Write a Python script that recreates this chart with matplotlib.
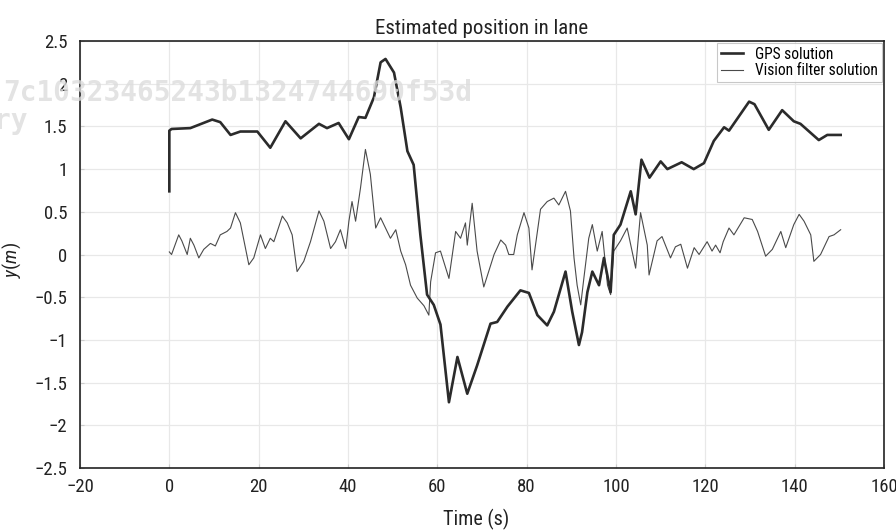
import matplotlib
matplotlib.use("Agg")
import matplotlib.pyplot as plt
from matplotlib import font_manager

# GPS solution track (time in s, lateral offset in m)
gps_t = [0.0, 0.0, 0.5, 4.7, 9.6, 11.4, 13.7, 15.9, 19.7, 22.6, 26.0, 29.4, 33.5, 35.3,
         37.9, 40.2, 42.4, 43.9, 45.8, 47.3, 48.4, 50.3, 51.8, 53.3, 54.7, 56.2, 57.7,
         59.2, 60.7, 62.6, 64.5, 66.7, 68.9, 71.9, 73.4, 75.7, 78.6, 80.5, 82.4, 84.6,
         86.1, 88.7, 90.2, 91.7, 92.4, 93.6, 94.7, 96.2, 97.3, 98.8, 99.5, 101.0, 103.3,
         104.4, 105.7, 107.5, 110.0, 111.5, 114.7, 117.4, 119.7, 121.9, 124.2, 125.3,
         129.8, 131.0, 134.2, 137.2, 139.8, 141.3, 145.4, 147.3, 150.3]
gps_y = [0.74, 1.45, 1.47, 1.48, 1.58, 1.55, 1.40, 1.44, 1.44, 1.25, 1.56, 1.36, 1.53, 1.48,
         1.54, 1.35, 1.61, 1.60, 1.84, 2.25, 2.29, 2.13, 1.72, 1.21, 1.05, 0.23, -0.47,
         -0.59, -0.82, -1.73, -1.20, -1.63, -1.30, -0.81, -0.79, -0.61, -0.42, -0.45, -0.71,
         -0.83, -0.67, -0.20, -0.67, -1.06, -0.91, -0.44, -0.20, -0.36, -0.04, -0.44, 0.23,
         0.35, 0.74, 0.47, 1.11, 0.90, 1.09, 1.00, 1.08, 1.00, 1.07, 1.33, 1.49, 1.45,
         1.79, 1.76, 1.46, 1.69, 1.56, 1.53, 1.34, 1.40, 1.40]

# Vision filter solution track
vis_t = [0.0, 0.5, 2.1, 2.8, 4.0, 4.7, 5.5, 6.6, 7.7, 9.2, 10.3, 11.4, 12.9, 13.7, 14.8,
         15.9, 17.8, 18.9, 20.4, 21.5, 22.6, 23.4, 25.3, 26.4, 27.5, 28.6, 30.1, 31.6,
         33.5, 34.6, 36.1, 37.2, 38.3, 39.5, 40.2, 40.9, 41.7, 42.8, 43.9, 45.0, 46.2,
         47.3, 49.5, 50.7, 51.8, 52.9, 54.0, 55.5, 57.0, 58.1, 58.5, 59.6, 60.7, 62.6,
         64.1, 65.2, 66.3, 66.7, 67.8, 68.9, 70.4, 72.7, 74.2, 75.3, 76.0, 77.1, 77.9,
         79.4, 80.5, 81.2, 83.1, 84.6, 86.1, 87.2, 88.7, 89.8, 90.6, 91.3, 92.1, 92.8,
         93.9, 94.7, 95.8, 96.9, 98.1, 98.8, 99.5, 101.0, 102.5, 104.4, 105.5, 107.0,
         107.4, 109.2, 110.3, 112.2, 113.3, 114.5, 116.0, 117.5, 118.6, 120.4, 121.5,
         122.3, 123.3, 124.0, 125.3, 126.4, 128.7, 130.5, 131.7, 133.5, 135.0, 136.9,
         138.0, 139.8, 141.0, 142.1, 143.6, 144.3, 145.8, 147.7, 148.8, 150.3]
vis_y = [0.03, 0.00, 0.23, 0.16, 0.00, 0.19, 0.11, -0.04, 0.06, 0.13, 0.10, 0.23, 0.27,
         0.31, 0.49, 0.37, -0.12, -0.04, 0.23, 0.07, 0.19, 0.15, 0.45, 0.37, 0.23, -0.20,
         -0.08, 0.15, 0.51, 0.39, 0.07, 0.15, 0.29, 0.07, 0.39, 0.62, 0.39, 0.78, 1.23,
         0.94, 0.31, 0.43, 0.19, 0.29, 0.04, -0.12, -0.36, -0.51, -0.60, -0.71, -0.32,
         0.02, 0.04, -0.28, 0.27, 0.19, 0.37, 0.11, 0.60, 0.04, -0.38, 0.00, 0.17, 0.11,
         0.00, 0.00, 0.23, 0.49, 0.31, -0.18, 0.53, 0.62, 0.66, 0.58, 0.74, 0.51, -0.04,
         -0.36, -0.59, -0.28, 0.19, 0.35, 0.04, 0.27, -0.36, -0.47, 0.04, 0.16, 0.31,
         -0.16, 0.49, 0.11, -0.24, 0.16, 0.21, -0.04, 0.09, 0.12, -0.16, 0.08, 0.00, 0.15,
         0.04, 0.11, 0.02, 0.15, 0.31, 0.23, 0.43, 0.41, 0.27, -0.02, 0.06, 0.27, 0.08,
         0.35, 0.47, 0.39, 0.23, -0.08, 0.00, 0.21, 0.23, 0.29]

x_ticks = [-20, 0, 20, 40, 60, 80, 100, 120, 140, 160]
y_ticks = [-2.5, -2, -1.5, -1, -0.5, 0, 0.5, 1, 1.5, 2, 2.5]


def pick_font():
    names = {f.name for f in font_manager.fontManager.ttflist}
    for cand in ["Liberation Sans Narrow", "Roboto Condensed", "Roboto", "DejaVu Sans"]:
        if cand in names:
            return cand
    return "DejaVu Sans"


font = pick_font()
plt.rcParams["font.family"] = [font, "DejaVu Sans"]
plt.rcParams["mathtext.fontset"] = "custom"
plt.rcParams["mathtext.it"] = f"{font}:italic"
plt.rcParams["mathtext.rm"] = font
plt.rcParams["axes.unicode_minus"] = True

fig = plt.figure(figsize=(8.96, 5.30), dpi=100)
ax = fig.add_axes([80 / 896, 1 - 468 / 530, 804 / 896, 427 / 530])

ax.plot(gps_t, gps_y, color="#2b2b2b", lw=1.9, label="GPS solution", zorder=3)
ax.plot(vis_t, vis_y, color="#4a4a4a", lw=0.8, label="Vision filter solution", zorder=2)

ax.set_xlim(-20, 160)
ax.set_ylim(-2.5, 2.5)
ax.set_xticks(x_ticks)
ax.set_yticks(y_ticks)
ax.set_xticklabels([f"{v:g}".replace("-", "\u2212") for v in x_ticks])
ax.set_yticklabels([f"{v:g}".replace("-", "\u2212") for v in y_ticks])
ax.grid(True, color="#e8e8e8", lw=0.9)
ax.set_axisbelow(True)
ax.tick_params(direction="in", length=3, color="#cccccc", labelsize=13.5,
               labelcolor="#222222")
ax.tick_params(axis="y", pad=9)
ax.tick_params(axis="x", pad=7)
for s in ax.spines.values():
    s.set_color("#222222")
    s.set_linewidth(1.2)

ax.set_title("Estimated position in lane", fontsize=15, color="#222222", pad=5)
ax.set_xlabel("Time (s)", fontsize=14.5, color="#222222")
ax.xaxis.set_label_coords((476 - 80) / 804, (468 - 509) / 427)
ax.set_ylabel(r"$y(m)$", fontsize=14, color="#222222")
ax.yaxis.set_label_coords((23 - 80) / 804, (468 - 260) / 427)

leg = ax.legend(loc="upper right", fontsize=11.2, frameon=True, fancybox=False,
                borderaxespad=0.12, handlelength=1.4, handletextpad=0.8,
                borderpad=0.25, labelspacing=0.1)
leg.get_frame().set_edgecolor("#bbbbbb")
leg.get_frame().set_linewidth(0.8)

fig.text(3 / 896, 1 - 93 / 530, "7c10323465243b1324744690f53d",
         family="DejaVu Sans Mono", fontweight="bold", fontsize=20, color="#dcdcdc",
         alpha=0.8, va="center", ha="left", zorder=10)
fig.text(27 / 896, 1 - 121 / 530, "ry", family="DejaVu Sans Mono", fontweight="bold",
         fontsize=20, color="#dcdcdc", alpha=0.8, va="center", ha="right", zorder=10)

fig.savefig("out.png", dpi=100)
